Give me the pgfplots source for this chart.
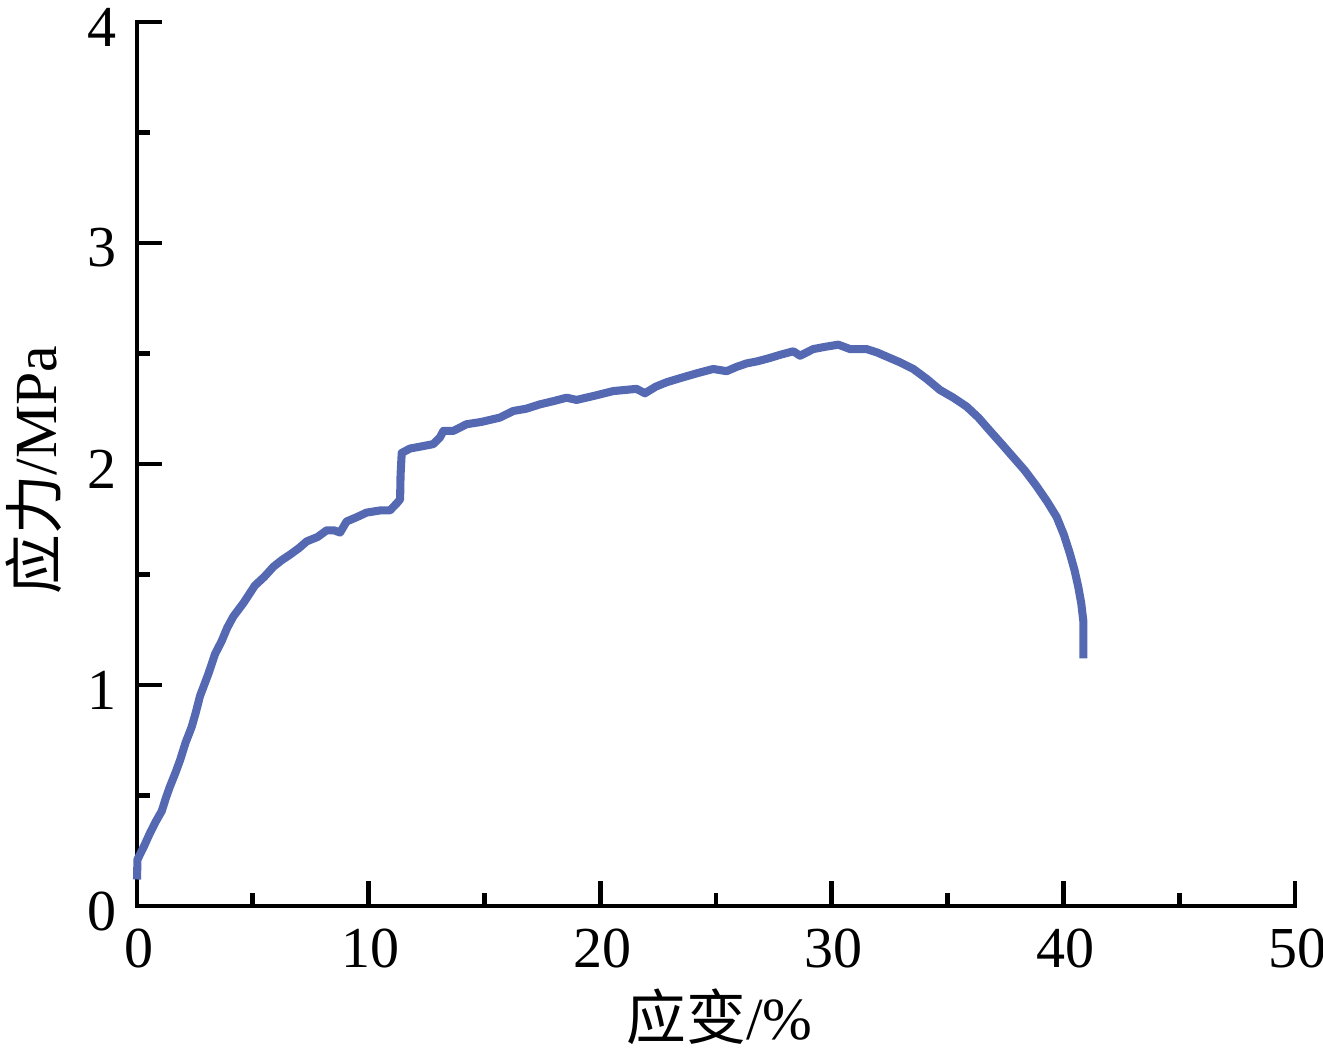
\documentclass[border=0pt]{standalone}
\usepackage{fontspec}
\setmainfont{Liberation Serif}
\newfontfamily\cjk{Noto Sans CJK SC}
\usepackage{pgfplots}
\pgfplotsset{compat=1.18}
\definecolor{curve}{RGB}{84,105,178}
\begin{document}
\fontsize{17}{20}\selectfont
\begin{tikzpicture}
\path[use as bounding box] (-13.7mm,-15.0mm) rectangle (118.6mm,90.6mm);
\begin{axis}[
  scale only axis,
  width=115.8mm, height=88.4mm,
  at={(0,0)}, anchor=origin,
  xmin=0, xmax=50, ymin=0, ymax=4,
  axis x line=bottom, axis y line=left,
  axis line style={-, line width=1.4pt, black, line cap=rect},
  xtick={0,10,...,50}, ytick={0,1,...,4},
  minor x tick num=1, minor y tick num=1,
  tick align=inside,
  major tick length=2.5mm, minor tick length=1.3mm,
  every tick/.style={black, line width=1.4pt},
  /pgf/number format/assume math mode=true,
  tick label style={font=\fontsize{16.5}{20}\selectfont, black},
  xticklabel style={yshift=-0.2mm, xshift=0.2mm},
  yticklabel style={xshift=0mm, yshift=-0.5mm},
  clip=false,
  xlabel={{\cjk 应变}/\%},
  ylabel={{\cjk 应力}/MPa},
  xlabel style={at={(rel axis cs:0.503,-0.1256)}, anchor=center, font=\fontsize{17}{20}\selectfont},
  ylabel style={at={(rel axis cs:-0.089,0.493)}, anchor=center, rotate=0, font=\fontsize{17}{20}\selectfont},
]
\addplot[color=curve, line width=2.3pt, line join=round] table {
x y
0.00 0.12
0.02 0.21
0.30 0.27
0.56 0.33
0.80 0.38
1.07 0.43
1.25 0.49
1.42 0.54
1.65 0.60
1.86 0.66
2.10 0.74
2.36 0.81
2.55 0.88
2.72 0.95
2.90 1.00
3.08 1.05
3.37 1.14
3.66 1.20
3.90 1.26
4.16 1.31
4.59 1.37
5.09 1.45
5.50 1.49
5.89 1.535
6.25 1.565
6.61 1.59
7.00 1.62
7.33 1.65
7.80 1.67
8.19 1.70
8.50 1.70
8.77 1.69
9.05 1.74
9.50 1.76
9.91 1.78
10.50 1.79
10.92 1.79
11.20 1.82
11.36 1.84
11.38 1.95
11.43 2.05
11.79 2.07
12.30 2.08
12.79 2.09
13.08 2.12
13.23 2.15
13.66 2.15
14.23 2.18
14.85 2.19
15.67 2.21
16.25 2.24
16.80 2.25
17.40 2.27
18.00 2.285
18.55 2.30
18.98 2.29
19.80 2.31
20.56 2.33
21.57 2.34
21.93 2.32
22.40 2.35
22.87 2.37
23.50 2.39
24.16 2.41
24.88 2.43
25.46 2.42
25.90 2.44
26.32 2.455
26.80 2.465
27.33 2.48
27.80 2.495
28.34 2.51
28.63 2.49
29.20 2.52
29.70 2.53
30.28 2.54
30.79 2.52
31.50 2.52
31.95 2.505
32.37 2.486
32.95 2.46
33.52 2.43
34.10 2.385
34.67 2.335
35.25 2.30
35.82 2.26
36.33 2.21
36.83 2.15
37.34 2.09
37.84 2.03
38.34 1.97
38.84 1.90
39.30 1.83
39.71 1.76
40.02 1.68
40.28 1.595
40.48 1.52
40.64 1.445
40.77 1.37
40.86 1.29
40.86 1.12
};
\end{axis}
\end{tikzpicture}
\end{document}
